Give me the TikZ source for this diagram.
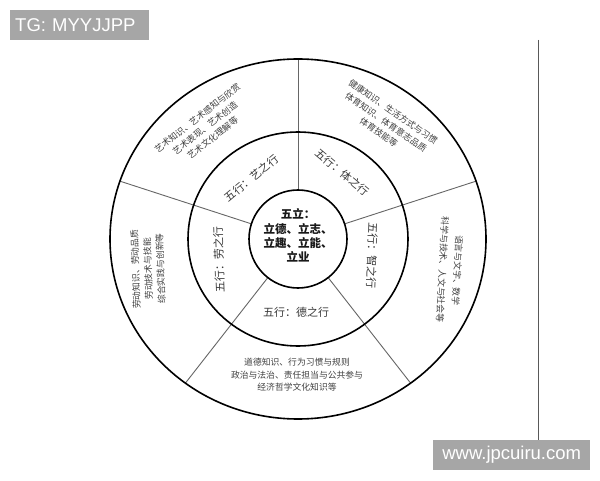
\documentclass[tikz,border=0pt]{standalone}
\usepackage{fontspec}
\setmainfont{Liberation Sans}
\newfontfamily\cjk{Noto Sans CJK SC}
\usetikzlibrary{shapes.geometric}
\begin{document}
\begin{tikzpicture}[x=1pt,y=1pt,
 ring/.style={draw=black, line width=1.6pt},
 divider/.style={draw=black!60, line width=0.9pt},
 midtxt/.style={font=\cjk\fontsize{11}{13}\selectfont, text=black!78, inner sep=0pt},
 outtxt/.style={font=\cjk\fontsize{8.8}{12.5}\selectfont, text=black!75, align=center, inner sep=0pt},
 coretxt/.style={font=\cjk\bfseries\fontsize{11.5}{14.3}\selectfont, text=black!90, align=center, inner sep=0pt},
 wmbox/.style={fill=black!35, text=white, font=\fontsize{18.5}{20}\selectfont, inner sep=0pt, minimum height=30pt}
]
\useasboundingbox (0,0) rectangle (600,480);
\fill[white] (0,0) rectangle (600,480);
\node[ellipse, minimum width=376pt, minimum height=360pt, inner sep=0pt] (outer) at (298,241) {};
\node[ellipse, minimum width=220pt, minimum height=214pt, inner sep=0pt] (middle) at (298,241) {};
\node[circle, minimum size=98pt, inner sep=0pt] (core) at (298,241) {};
\foreach \a in {90,162,18,232,308} \draw[divider] (core.\a) -- (outer.\a);
\draw[ring] (outer.center) ellipse [x radius=188, y radius=180];
\draw[ring] (middle.center) ellipse [x radius=110, y radius=107];
\draw[ring] (core.center) circle [radius=49];
\node[coretxt] (wuli) at (298,244.5) {五立：\\立德、立志、\\立趣、立能、\\立业};
\node[midtxt, rotate=40] (yi) at (251.5,302) {五行：艺之行};
\node[midtxt, rotate=-40] (ti) at (342.5,307.5) {五行：体之行};
\node[midtxt, rotate=-92] (zhi) at (372,224) {五行：智之行};
\node[midtxt, rotate=92] (lao) at (219,220) {五行：劳之行};
\node[midtxt] (de) at (296,168) {五行：德之行};
\node[outtxt, rotate=38] (yio) at (205,352) {艺术知识、艺术感知与欣赏\\艺术表现、艺术创造\\艺术文化理解等};
\node[outtxt, rotate=-35] (tio) at (386,358) {健康知识、生活方式与习惯\\体育知识、体育意志品质\\体育技能等};
\node[outtxt, rotate=-93, font=\cjk\fontsize{8.8}{15}\selectfont] (zhio) at (450,210) {语言与文字、数学\\科学与技术、人文与社会等};
\node[outtxt, rotate=92] (laoo) at (148,211) {劳动知识、劳动品质\\劳动技术与技能\\综合实践与创新等};
\node[outtxt] (deo) at (297,105) {道德知识、行为习惯与规则\\政治与法治、责任担当与公共参与\\经济哲学文化知识等};
\node[wmbox, anchor=north west, text width=129pt, inner xsep=5pt, align=left] (tg) at (10,470) {TG: MYYJJPP};
\node[wmbox, anchor=south west, minimum width=157pt] (www) at (433,10) {www.jpcuiru.com};
\coordinate (rtop) at (538,440);
\draw[black!65, line width=1pt] (rtop) -- (rtop |- www.north);
\end{tikzpicture}
\end{document}
